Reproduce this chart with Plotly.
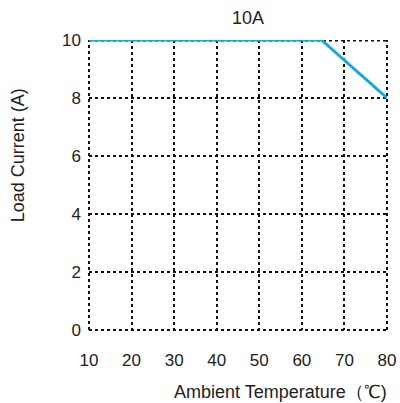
import plotly.graph_objects as go

temps = [10, 64.6, 80]
current = [10, 10, 8]
x_ticks = [10, 20, 30, 40, 50, 60, 70, 80]
y_ticks = [0, 2, 4, 6, 8, 10]

font_family = "Liberation Sans, Arial, sans-serif"
txt = "#222222"
grid_c = "#111111"

fig = go.Figure()
fig.add_trace(go.Scatter(x=temps, y=current, mode="lines",
                         line=dict(color="#12A8E6", width=3), showlegend=False))

frame_line = dict(color=grid_c, width=2, dash="dot")
fig.update_layout(
    width=400, height=403,
    margin=dict(l=89, r=13, t=40, b=73),
    paper_bgcolor="white", plot_bgcolor="white",
    font=dict(family=font_family, color=txt, size=17),
    xaxis=dict(range=[x_ticks[0], x_ticks[-1]], tickvals=x_ticks, showgrid=True,
               gridcolor=grid_c, griddash="dot", gridwidth=2, zeroline=False,
               showline=False, ticks="", ticklabelstandoff=18, tickfont=dict(size=17),
               automargin=False),
    yaxis=dict(range=[y_ticks[0], y_ticks[-1]], tickvals=y_ticks, showgrid=True,
               gridcolor=grid_c, griddash="dot", gridwidth=2, zeroline=False,
               showline=False, ticks="", ticklabelstandoff=7, tickfont=dict(size=17),
               automargin=False),
    shapes=[
        # left, right, bottom edges of the frame (paper refs, not clipped)
        dict(type="line", xref="paper", yref="paper", x0=0, x1=0, y0=0, y1=1,
             layer="below", line=frame_line),
        dict(type="line", xref="paper", yref="paper", x0=1, x1=1, y0=0, y1=1,
             layer="below", line=frame_line),
        dict(type="line", xref="paper", yref="paper", x0=0, x1=1, y0=0, y1=0,
             layer="below", line=frame_line),
        # top edge clipped to plot area so the data line covers it
        dict(type="line", xref="paper", yref="y", x0=0, x1=1,
             y0=y_ticks[-1], y1=y_ticks[-1], layer="below",
             line=dict(color=grid_c, width=3, dash="dot")),
    ],
    annotations=[
        dict(text="10A", xref="paper", yref="paper", x=0.534, y=1.076,
             showarrow=False, font=dict(size=18), xanchor="center", yanchor="middle"),
        dict(text="Ambient Temperature（℃)", xref="paper", yref="paper", x=0.641, y=-0.214,
             showarrow=False, font=dict(size=18), xanchor="center", yanchor="middle"),
        dict(text="Load Current (A)", xref="paper", yref="paper", x=-0.238, y=0.603,
             showarrow=False, font=dict(size=18), textangle=-90,
             xanchor="center", yanchor="middle"),
    ],
)

fig.write_html(
    "out.html",
    config={"displayModeBar": False, "staticPlot": True},
    post_script="document.documentElement.style.margin='0';"
                "document.body.style.margin='0';"
                "document.body.style.overflow='hidden';",
)
